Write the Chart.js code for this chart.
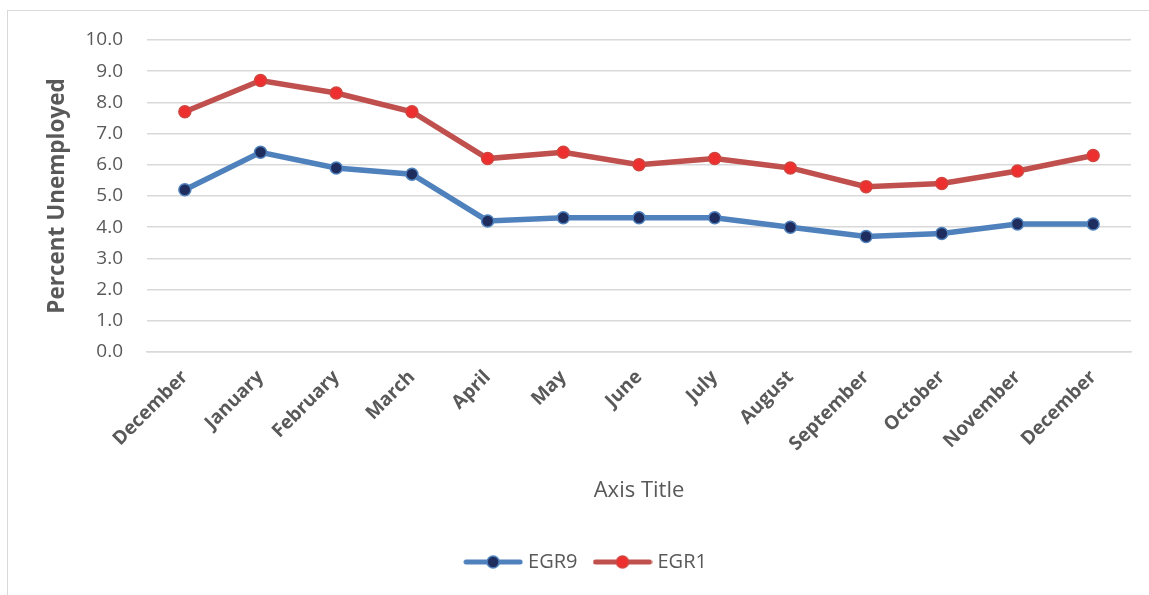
<!DOCTYPE html>
<html>
<head>
<meta charset="utf-8">
<script src="https://cdn.jsdelivr.net/npm/chart.js@4"></script>
<style>
  html, body { margin: 0; padding: 0; background: #ffffff; }
  #wrap { position: relative; width: 1149px; height: 595px; overflow: hidden; }
  #frame { position: absolute; left: 7px; top: 10px; width: 1160px; height: 600px;
           border: 1.5px solid #d9d9d9; box-sizing: border-box; pointer-events: none; }
  canvas { position: absolute; left: 0; top: 0; }
</style>
</head>
<body>
<div id="wrap">
  <canvas id="c" width="1149" height="595"></canvas>
  <div id="frame"></div>
</div>
<script>
const categories = ["December", "January", "February", "March", "April", "May", "June",
                    "July", "August", "September", "October", "November", "December"];
const egr9 = [5.2, 6.4, 5.9, 5.7, 4.2, 4.3, 4.3, 4.3, 4.0, 3.7, 3.8, 4.1, 4.1];
const egr1 = [7.7, 8.7, 8.3, 7.7, 6.2, 6.4, 6.0, 6.2, 5.9, 5.3, 5.4, 5.8, 6.3];
const yTicks = [0, 1, 2, 3, 4, 5, 6, 7, 8, 9, 10];
const seriesNames = ["EGR9", "EGR1"];

const lineColors = ["#4F81BD", "#C0504D"];
const markerFill = ["#1F2D5E", "#EE2F2F"];
const markerBorder = ["#4F81BD", "#D0453F"];
const textColor = "#595959";

function makeIcon(i) {
  const cv = document.createElement("canvas");
  cv.width = 60; cv.height = 16;
  const g = cv.getContext("2d");
  g.strokeStyle = lineColors[i];
  g.lineWidth = 5;
  g.lineCap = "round";
  g.beginPath(); g.moveTo(3, 8); g.lineTo(57, 8); g.stroke();
  g.beginPath(); g.arc(30, 8, 6, 0, Math.PI * 2);
  g.fillStyle = markerFill[i]; g.fill();
  g.lineWidth = 1.5; g.strokeStyle = markerBorder[i]; g.stroke();
  return cv;
}
const icons = [makeIcon(0), makeIcon(1)];

const shiftLegend = {
  id: "shiftLegend",
  afterLayout(chart) {
    if (chart.legend) { chart.legend.left += 22; chart.legend.right += 22; }
  }
};

const ctx = document.getElementById("c").getContext("2d");
new Chart(ctx, {
  type: "line",
  plugins: [shiftLegend],
  data: {
    labels: categories,
    datasets: [
      { label: seriesNames[0], data: egr9, borderColor: lineColors[0], borderWidth: 5.5,
        pointBackgroundColor: markerFill[0], pointBorderColor: markerBorder[0],
        pointRadius: 6, pointBorderWidth: 1.5, tension: 0, fill: false },
      { label: seriesNames[1], data: egr1, borderColor: lineColors[1], borderWidth: 5.5,
        pointBackgroundColor: markerFill[1], pointBorderColor: markerBorder[1],
        pointRadius: 6, pointBorderWidth: 1.5, tension: 0, fill: false }
    ]
  },
  options: {
    responsive: false,
    animation: false,
    layout: { padding: { left: 0, right: 18, top: 40, bottom: 13 } },
    plugins: {
      tooltip: { enabled: false },
      legend: {
        position: "bottom",
        labels: {
          usePointStyle: true,
          pointStyleWidth: 50,
          boxHeight: 20,
          padding: 20,
          color: textColor,
          font: { family: "Open Sans", size: 20 },
          generateLabels: (chart) => chart.data.datasets.map((ds, i) => ({
            text: ds.label, pointStyle: icons[i], fillStyle: lineColors[i],
            strokeStyle: lineColors[i], lineWidth: 0, hidden: false,
            datasetIndex: i, fontColor: textColor
          }))
        }
      }
    },
    scales: {
      x: {
        offset: true,
        grid: { display: false },
        border: { display: true, color: "#d9d9d9", width: 1.5 },
        ticks: {
          minRotation: 45, maxRotation: 45, autoSkip: false,
          color: textColor, padding: 6,
          font: { family: "Open Sans", size: 19, weight: "bold" }
        },
        title: { display: true, text: "Axis Title", color: textColor,
                 font: { family: "Open Sans", size: 22 }, padding: { top: 0, bottom: 28 } },
        afterFit: (s) => { s.height = 180; }
      },
      y: {
        min: 0, max: 10,
        afterBuildTicks: (s) => { s.ticks = yTicks.map(v => ({ value: v })); },
        grid: { color: "#d9d9d9", lineWidth: 1.5, drawTicks: false },
        border: { display: false },
        ticks: {
          color: textColor, padding: 24,
          font: { family: "Open Sans", size: 19 },
          callback: (v) => Number(v).toFixed(1)
        },
        title: { display: true, text: "Percent Unemployed", color: textColor,
                 font: { family: "Open Sans", size: 22.5, weight: "bold" }, padding: { top: 44, bottom: 0 } },
        afterFit: (s) => { s.width = 147; }
      }
    }
  }
});
</script>
</body>
</html>
